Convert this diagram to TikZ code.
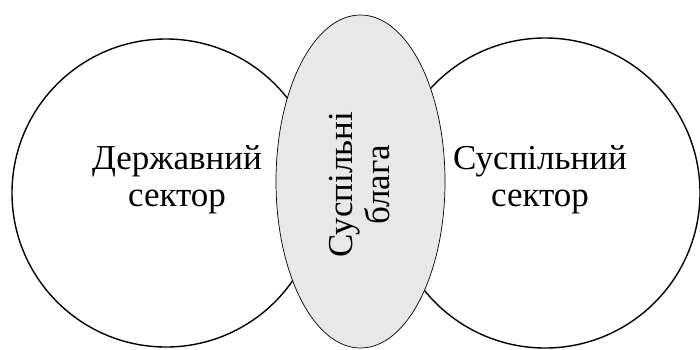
\documentclass[tikz,border=0pt]{standalone}
\usepackage{fontspec}
\setmainfont{Liberation Serif}
\usetikzlibrary{shapes.geometric}
\begin{document}
\begin{tikzpicture}[x=1pt,y=-1pt,
  sector/.style={circle,draw=black,line width=1.4pt,minimum size=#1,inner sep=0pt},
  goods/.style={ellipse,draw=black,line width=0.7pt,fill=black!9,
    minimum width=169pt,minimum height=333pt,inner sep=0pt},
  label/.style={align=center,font=\fontsize{35}{37}\selectfont,inner sep=0pt}]
\useasboundingbox (0,0) rectangle (700,349);
\clip (0,0) rectangle (700,349);
% the two sectors
\node[sector=308pt] (gov) at (166,193) {};
\node[sector=310pt] (soc) at (545,193) {};
% public goods overlapping both sectors
\node[goods] (pub) at (360.5,181.5) {};
% captions
\node[label] (govtext) at (177,180) {Державний\\сектор};
\node[label] (soctext) at (540,180) {Суспільний\\сектор};
\node[label,rotate=90] (pubtext) at (360,185) {Суспільні\\блага};
\end{tikzpicture}
\end{document}
